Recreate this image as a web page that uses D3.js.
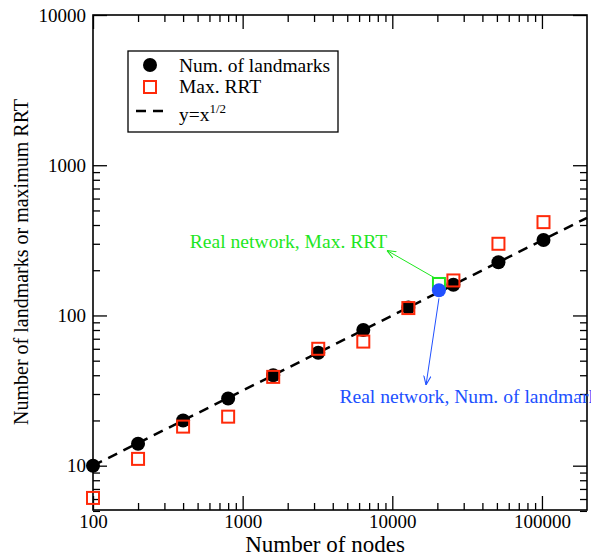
<!DOCTYPE html>
<html>
<head>
<meta charset="utf-8">
<script src="https://cdn.jsdelivr.net/npm/d3@7"></script>
<style>
  body { margin: 0; background: #fff; }
  text { font-family: "Liberation Serif", "Times New Roman", serif; }
</style>
</head>
<body>
<svg id="chart" width="594" height="556"></svg>
<script>
// simulated networks: number of nodes
const nodes = [100, 200, 400, 800, 1600, 3200, 6400, 12800, 25600, 51200, 102400];
const landmarks = [10, 14, 20, 28, 40, 56.5, 80, 113, 160, 226, 318];
const maxRRT = [6.1, 11.1, 18.2, 21.2, 39, 60, 67, 112, 171, 300, 418];

// real network
const realNodes = 20500;
const realLandmarks = 147;
const realRRT = 162;

// y = x^(1/2) guide, end points
const fitX = [100, 200000];
const fitY = [10, 447];

const xMajor = [100, 1000, 10000, 100000];
const yMajor = [10, 100, 1000, 10000];

const svg = d3.select("#chart"),
      margin = { top: 15, right: 7, bottom: 46, left: 93 },
      width = +svg.attr("width") - margin.left - margin.right,
      height = +svg.attr("height") - margin.top - margin.bottom;

const g = svg.append("g").attr("transform", `translate(${margin.left},${margin.top})`);

const x = d3.scaleLog().domain([100, 200000]).range([0, width]);
const y = d3.scaleLog().domain([5.07, 10000]).range([height, 0]);

// minor ticks 2..9 per decade
const minors = (lo, hi) => {
  const out = [];
  for (let p = lo; p < hi; p *= 10)
    for (let k = 2; k <= 9; k++) out.push(p * k);
  return out;
};
const xMinor = minors(100, 100000);
const yMinor = [5, 6, 7, 8, 9].concat(minors(10, 1000));

function styleAxis(sel) {
  sel.select(".domain").remove();
  sel.selectAll(".tick line").attr("stroke", "#000").attr("stroke-width", 1.3);
  sel.selectAll("text").style("font-size", "19px").attr("fill", "#000");
}

// bottom
g.append("g").attr("transform", `translate(0,${height})`)
  .call(d3.axisBottom(x).tickValues(xMajor).tickFormat(d3.format("d")).tickSize(-14).tickPadding(5))
  .call(styleAxis);
g.append("g").attr("transform", `translate(0,${height})`)
  .call(d3.axisBottom(x).tickValues(xMinor).tickFormat("").tickSize(-7))
  .call(styleAxis);
// top
g.append("g")
  .call(d3.axisTop(x).tickValues(xMajor).tickFormat("").tickSize(-14))
  .call(styleAxis);
g.append("g")
  .call(d3.axisTop(x).tickValues(xMinor).tickFormat("").tickSize(-7))
  .call(styleAxis);
// left
g.append("g")
  .call(d3.axisLeft(y).tickValues(yMajor).tickFormat(d3.format("d")).tickSize(-14).tickPadding(7))
  .call(styleAxis);
g.append("g")
  .call(d3.axisLeft(y).tickValues(yMinor).tickFormat("").tickSize(-7))
  .call(styleAxis);
// right
g.append("g").attr("transform", `translate(${width},0)`)
  .call(d3.axisRight(y).tickValues(yMajor).tickFormat("").tickSize(-14))
  .call(styleAxis);
g.append("g").attr("transform", `translate(${width},0)`)
  .call(d3.axisRight(y).tickValues(yMinor).tickFormat("").tickSize(-7))
  .call(styleAxis);

g.append("rect")
  .attr("width", width).attr("height", height)
  .attr("fill", "none").attr("stroke", "#000").attr("stroke-width", 1.6);

// axis titles
svg.append("text")
  .attr("x", 325)
  .attr("y", 552)
  .attr("text-anchor", "middle")
  .style("font-size", "23px")
  .text("Number of nodes");

svg.append("text")
  .attr("transform", "rotate(-90)")
  .attr("x", -262)
  .attr("y", 28)
  .attr("text-anchor", "middle")
  .style("font-size", "20px")
  .text("Number of landmarks or maximum RRT");

// fit line
const line = d3.line().x(d => x(d[0])).y(d => y(d[1]));
g.append("path")
  .attr("d", line(d3.zip(fitX, fitY)))
  .attr("fill", "none")
  .attr("stroke", "#000")
  .attr("stroke-width", 2.5)
  .attr("stroke-dasharray", "10,7");

const red = "#ff2a0a", green = "#1fe61f", blue = "#2050ff";

// landmarks
g.selectAll(".lm")
  .data(d3.zip(nodes, landmarks))
  .enter().append("circle")
  .attr("cx", d => x(d[0]))
  .attr("cy", d => y(d[1]))
  .attr("r", 7)
  .attr("fill", "#000");

// max RRT
const sq = 12;
g.selectAll(".rrt")
  .data(d3.zip(nodes, maxRRT))
  .enter().append("rect")
  .attr("x", d => x(d[0]) - sq / 2)
  .attr("y", d => y(d[1]) - sq / 2)
  .attr("width", sq).attr("height", sq)
  .attr("fill", "none")
  .attr("stroke", red)
  .attr("stroke-width", 2);

// real network points
g.append("rect")
  .attr("x", x(realNodes) - sq / 2)
  .attr("y", y(realRRT) - sq / 2)
  .attr("width", sq).attr("height", sq)
  .attr("fill", "#fff")
  .attr("stroke", green)
  .attr("stroke-width", 2);
g.append("circle")
  .attr("cx", x(realNodes))
  .attr("cy", y(realLandmarks))
  .attr("r", 7)
  .attr("fill", blue);

// arrows
const defs = svg.append("defs");
[["arrG", green], ["arrB", blue]].forEach(([id, c]) => {
  defs.append("marker")
    .attr("id", id)
    .attr("viewBox", "0 0 10 10")
    .attr("refX", 10).attr("refY", 5)
    .attr("markerWidth", 9).attr("markerHeight", 9)
    .attr("markerUnits", "userSpaceOnUse")
    .attr("orient", "auto")
    .append("path")
    .attr("d", "M0,1 L10,5 L0,9")
    .attr("fill", "none")
    .attr("stroke", c)
    .attr("stroke-width", 1.2);
});

g.append("line")
  .attr("x1", x(19000)).attr("y1", y(179))
  .attr("x2", x(9200)).attr("y2", y(271))
  .attr("stroke", green).attr("stroke-width", 1)
  .attr("marker-end", "url(#arrG)");

g.append("line")
  .attr("x1", x(20500)).attr("y1", y(130))
  .attr("x2", x(16800)).attr("y2", y(34.5))
  .attr("stroke", blue).attr("stroke-width", 1)
  .attr("marker-end", "url(#arrB)");

g.append("text")
  .attr("x", x(443)).attr("y", y(280))
  .attr("fill", green)
  .style("font-size", "19.6px")
  .text("Real network, Max. RRT");

// the reference cuts this label at the picture's right edge
defs.append("clipPath").attr("id", "clipB")
  .append("rect").attr("x", -margin.left).attr("y", 0)
  .attr("width", 591).attr("height", 556);

g.append("text")
  .attr("clip-path", "url(#clipB)")
  .attr("x", x(4430)).attr("y", y(26.3))
  .attr("fill", blue)
  .style("font-size", "19.6px")
  .text("Real network, Num. of landmarks");

// legend
const legend = svg.append("g").attr("transform", "translate(128,51)");
legend.append("rect")
  .attr("width", 210).attr("height", 81)
  .attr("fill", "#fff").attr("stroke", "#000").attr("stroke-width", 1.3);
legend.append("circle").attr("cx", 22).attr("cy", 14).attr("r", 7).attr("fill", "#000");
legend.append("rect").attr("x", 16).attr("y", 30).attr("width", 12).attr("height", 12)
  .attr("fill", "none").attr("stroke", red).attr("stroke-width", 2);
legend.append("line").attr("x1", 8).attr("x2", 35).attr("y1", 60).attr("y2", 60)
  .attr("stroke", "#000").attr("stroke-width", 2.5).attr("stroke-dasharray", "10,7");

legend.append("text").attr("x", 51).attr("y", 21).style("font-size", "19.5px").text("Num. of landmarks");
legend.append("text").attr("x", 51).attr("y", 42).style("font-size", "19.5px").text("Max. RRT");
const fitLabel = legend.append("text").attr("x", 51).attr("y", 70).style("font-size", "19.5px");
fitLabel.append("tspan").text("y=x");
fitLabel.append("tspan").attr("dy", -8).style("font-size", "13px").text("1/2");
</script>
</body>
</html>
